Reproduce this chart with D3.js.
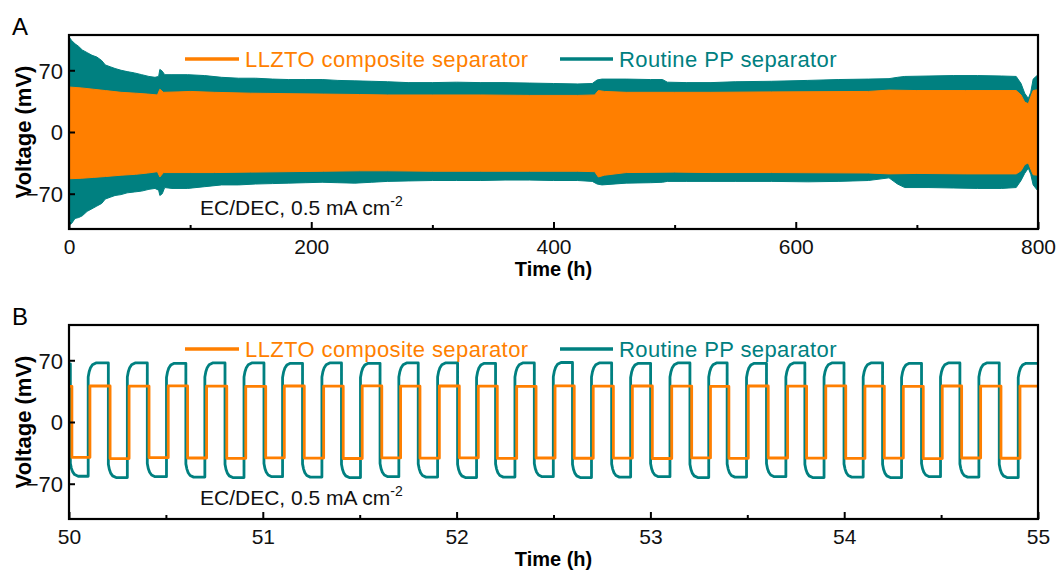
<!DOCTYPE html>
<html>
<head>
<meta charset="utf-8">
<script src="https://cdn.jsdelivr.net/npm/d3@7"></script>
<style>
  html, body { margin: 0; padding: 0; background: #fff; }
  svg { display: block; font-family: "Liberation Sans", Arial, sans-serif; }
</style>
</head>
<body>
<svg id="chart" width="1060" height="572"></svg>
<script>
// ---------- Panel A: long-term cycling envelope (0–800 h) ----------
// Routine PP separator: time (h), upper and lower voltage envelope (mV)
const ppTimeA  = [0, 2, 5, 8, 11, 15, 19, 23, 27, 30, 34, 38, 43, 48, 54, 60, 66, 71, 74, 75, 77, 79, 85, 98, 112, 126, 140, 154, 168, 181, 195, 209, 222, 236, 250, 263, 280, 300, 320, 340, 360, 380, 400, 420, 432, 436, 440, 460, 480, 490, 494, 510, 530, 550, 580, 610, 635, 660, 677, 684, 690, 710, 730, 750, 770, 782, 786, 789, 792, 794, 796, 800];
const ppUpperA = [108, 104, 100, 97, 93, 90, 87, 85, 81, 76, 74, 72, 70, 68.5, 67, 65, 63, 62, 63, 71, 69, 65, 65, 65, 64, 62, 61, 61, 60, 59.5, 59.5, 59.5, 58.5, 58, 57.5, 57, 56, 56, 56.5, 56, 56, 55.5, 55, 54.5, 55, 59, 60, 60, 59.5, 59.5, 56.5, 56, 56, 57, 57.5, 58.5, 59.5, 60, 60.5, 62, 63, 63.5, 64, 64, 63.5, 63, 55, 44, 38, 45, 60, 65];
const ppLowerA = [-105, -104, -98, -97, -95, -90, -87, -84, -81, -76, -74, -72, -71, -69, -68, -67, -65, -64, -66, -72, -70, -63, -64, -64, -62, -60, -60, -59, -58.5, -58, -57.5, -57, -57.5, -58, -57, -56, -55.5, -55, -55, -55, -54.5, -54.5, -55, -55, -56, -59, -60, -58, -57.5, -57, -56, -56, -56, -56, -56, -56.5, -56, -55, -52, -59, -63, -63, -63.5, -64, -64, -63, -55, -47, -41, -48, -60, -67];

// LLZTO composite separator: time (h), upper and lower voltage envelope (mV)
const llzTimeA  = [0, 10, 20, 30, 43, 55, 65, 73, 75, 78, 90, 100, 120, 150, 180, 210, 240, 263, 300, 340, 380, 420, 434, 437, 442, 460, 500, 530, 580, 660, 677, 700, 740, 782, 786, 789, 792, 794, 796, 800];
const llzUpperA = [51, 50, 48.5, 47, 45, 44, 43, 42, 48.5, 45, 45.5, 46, 45, 44, 43.5, 43, 42.5, 42, 42, 42, 41.5, 41.5, 42, 47, 46, 45, 45, 45, 45.5, 46, 47.5, 47, 47, 47, 42, 34, 32, 40, 47, 48];
const llzLowerA = [-53, -52.5, -51.5, -50.5, -49, -48, -46.5, -45, -51, -46, -46, -46, -46, -45.5, -45, -44.5, -44, -44, -44.5, -44.5, -44.5, -44.5, -45, -51, -49, -46, -45.5, -46, -46, -46.5, -47.5, -47, -47.5, -47.5, -44, -37, -35, -42, -48.5, -49];

const xTicksA = [0, 200, 400, 600, 800];
const xMinorA = [100, 300, 500, 700];

// ---------- Panel B: detail between 50 h and 55 h ----------
// Times (h) at which the polarity flips; the trace starts on the positive side
const llzSwitchB = [50.015, 50.108, 50.212, 50.310, 50.413, 50.512, 50.612, 50.710, 50.814, 50.912, 51.015, 51.111, 51.214, 51.314, 51.415, 51.513, 51.614, 51.711, 51.811, 51.911, 52.014, 52.112, 52.210, 52.310, 52.410, 52.508, 52.607, 52.705, 52.809, 52.907, 53.010, 53.110, 53.213, 53.310, 53.405, 53.505, 53.608, 53.708, 53.806, 53.905, 54.008, 54.107, 54.207, 54.305, 54.408, 54.506, 54.606, 54.704, 54.809, 54.907];
// Plateau voltage of each positive / negative half-cycle (mV)
const llzHighB = [40.5, 40.8, 40.6, 40.9, 40.7, 40.5, 40.8, 40.6, 40.9, 40.6, 40.8, 40.7, 40.5, 40.9, 40.6, 40.8, 40.7, 40.4, 40.8, 40.6, 40.9, 40.7, 40.5, 40.8, 40.6, 40.7];
const llzLowB  = [-40.2, -41.5, -40.5, -40.8, -41.2, -40.6, -40.9, -41.4, -40.7, -41.0, -40.6, -41.3, -40.8, -41.1, -40.9, -41.4, -40.7, -41.2, -40.8, -41.0, -41.3, -40.9, -41.5, -40.8, -41.1];

const ppSwitchB = [50.007, 50.099, 50.203, 50.301, 50.404, 50.503, 50.603, 50.701, 50.805, 50.903, 51.006, 51.102, 51.205, 51.305, 51.406, 51.504, 51.605, 51.702, 51.802, 51.902, 52.005, 52.103, 52.201, 52.301, 52.401, 52.499, 52.598, 52.696, 52.800, 52.898, 53.001, 53.101, 53.204, 53.301, 53.396, 53.496, 53.599, 53.699, 53.797, 53.896, 53.999, 54.098, 54.198, 54.296, 54.399, 54.497, 54.597, 54.695, 54.800, 54.898];
const ppHighB = [66, 67, 67, 66.5, 67, 67, 66.5, 67, 66.5, 67, 67, 66.5, 67, 67.5, 67, 66.5, 67, 67, 66.5, 67, 67, 67, 66.5, 67, 67, 66.5];
const ppLowB  = [-61.5, -63, -62, -62.5, -63, -62, -62.5, -63, -62, -62.5, -63, -62.5, -62, -63, -62.5, -62, -63, -62.5, -62, -63, -62.5, -63, -62, -62.5, -63];
// Relaxation of the PP cell after each reversal: (hours after flip, share of plateau)
const ppRelaxB = [[0, 0.76], [0.005, 0.85], [0.012, 0.92], [0.022, 0.97], [0.04, 1.0]];

const xTicksB = [50, 51, 52, 53, 54, 55];
const xMinorB = [50.5, 51.5, 52.5, 53.5, 54.5];

const yTicks = [-70, 0, 70];

const seriesNames = ["LLZTO composite separator", "Routine PP separator"];
const colorLLZ = "#FF7F00";
const colorPP = "#008080";

// ---------- layout ----------
const svg = d3.select("#chart");
const left = 69, right = 1038;
const panels = [
  { key: "A", top: 35, bottom: 229, domain: [0, 800], ticks: xTicksA, minor: xMinorA },
  { key: "B", top: 325, bottom: 519, domain: [50, 55], ticks: xTicksB, minor: xMinorB }
];
const FONT = "\"Liberation Sans\", Arial, sans-serif";

const defs = svg.append("defs");

panels.forEach(p => {
  p.x = d3.scaleLinear().domain(p.domain).range([left, right]);
  p.y = d3.scaleLinear().domain([-110, 110]).range([p.bottom, p.top]);
  defs.append("clipPath").attr("id", "clip" + p.key)
    .append("rect").attr("x", left).attr("y", p.top)
    .attr("width", right - left).attr("height", p.bottom - p.top);
  p.g = svg.append("g");
  p.plot = p.g.append("g").attr("clip-path", `url(#clip${p.key})`);
});

// ---------- Panel A marks ----------
(function () {
  const p = panels[0];
  const band = d3.area()
    .x(d => p.x(d.t)).y0(d => p.y(d.lo)).y1(d => p.y(d.hi));
  const ppData = ppTimeA.map((t, i) => ({ t, hi: ppUpperA[i], lo: ppLowerA[i] }));
  const llzData = llzTimeA.map((t, i) => ({ t, hi: llzUpperA[i], lo: llzLowerA[i] }));
  p.plot.append("path").datum(ppData).attr("d", band)
    .attr("fill", colorPP).attr("stroke", colorPP).attr("stroke-width", 1);
  p.plot.append("path").datum(llzData).attr("d", band)
    .attr("fill", colorLLZ).attr("stroke", colorLLZ).attr("stroke-width", 1);
})();

// ---------- Panel B marks ----------
(function () {
  const p = panels[1];
  const [t0, t1] = p.domain;
  const line = d3.line().x(d => p.x(d[0])).y(d => p.y(d[1]));

  // LLZTO: square wave with flat plateaus
  const llzPts = [];
  let hi = 0, lo = 0;
  for (let i = 0; i <= llzSwitchB.length; i++) {
    const start = i === 0 ? t0 : llzSwitchB[i - 1];
    const end = i === llzSwitchB.length ? t1 : llzSwitchB[i];
    const v = i % 2 === 0 ? llzHighB[hi++] : llzLowB[lo++];
    llzPts.push([start, v], [end, v]);
  }

  // PP: square wave with a rounded knee after each reversal
  const ppPts = [];
  hi = 0; lo = 0;
  for (let i = 0; i <= ppSwitchB.length; i++) {
    const start = i === 0 ? t0 : ppSwitchB[i - 1];
    const end = i === ppSwitchB.length ? t1 : ppSwitchB[i];
    const v = i % 2 === 0 ? ppHighB[hi++] : ppLowB[lo++];
    if (i === 0) {
      ppPts.push([start, v]);
    } else {
      ppRelaxB.forEach(([dt, f]) => {
        if (start + dt < end) ppPts.push([start + dt, v * f]);
      });
    }
    ppPts.push([end, v]);
  }

  p.plot.append("path").datum(ppPts).attr("d", line)
    .attr("fill", "none").attr("stroke", colorPP).attr("stroke-width", 2.8)
    .attr("stroke-linejoin", "round");
  p.plot.append("path").datum(llzPts).attr("d", line)
    .attr("fill", "none").attr("stroke", colorLLZ).attr("stroke-width", 2.8)
    .attr("stroke-linejoin", "round");
})();

// ---------- axes, frame, text (both panels) ----------
panels.forEach(p => {
  const g = p.g;
  // major x ticks with labels
  const xAxis = d3.axisBottom(p.x).tickValues(p.ticks)
    .tickSizeInner(-7).tickSizeOuter(0).tickPadding(10).tickFormat(d3.format("d"));
  const ax = g.append("g").attr("transform", `translate(0,${p.bottom})`).call(xAxis);
  // minor x ticks
  const xMinor = d3.axisBottom(p.x).tickValues(p.minor)
    .tickSizeInner(-4).tickSizeOuter(0).tickFormat("");
  const axm = g.append("g").attr("transform", `translate(0,${p.bottom})`).call(xMinor);
  // y ticks
  const yAxis = d3.axisLeft(p.y).tickValues(yTicks)
    .tickSizeInner(-6).tickSizeOuter(0).tickPadding(6).tickFormat(d3.format("d"));
  const ay = g.append("g").attr("transform", `translate(${left},0)`).call(yAxis);

  [ax, axm, ay].forEach(a => {
    a.select(".domain").remove();
    a.selectAll("line").attr("stroke", "#000").attr("stroke-width", 2);
    a.selectAll("text").attr("font-family", FONT).attr("font-size", 21).attr("fill", "#111");
  });
  ay.selectAll("text").attr("dy", "0.36em").attr("font-size", 22);

  // frame
  g.append("rect").attr("x", left).attr("y", p.top)
    .attr("width", right - left).attr("height", p.bottom - p.top)
    .attr("fill", "none").attr("stroke", "#000").attr("stroke-width", 2.2);

  // axis titles
  g.append("text").attr("x", (left + right) / 2).attr("y", p.bottom + 47)
    .attr("text-anchor", "middle").attr("font-family", FONT)
    .attr("font-size", 20).attr("font-weight", "bold").attr("fill", "#000")
    .text("Time (h)");
  g.append("text")
    .attr("transform", `translate(31,${(p.top + p.bottom) / 2}) rotate(-90)`)
    .attr("text-anchor", "middle").attr("font-family", FONT)
    .attr("font-size", 22).attr("font-weight", "bold").attr("fill", "#000")
    .text("Voltage (mV)");

  // panel letter
  g.append("text").attr("x", 12).attr("y", p.top)
    .attr("font-family", FONT).attr("font-size", 24).attr("fill", "#000")
    .text(p.key);

  // legend
  const ly = p.top + 24;
  [[185, 239, 245, colorLLZ, seriesNames[0]], [560, 613, 619, colorPP, seriesNames[1]]]
    .forEach(([x1, x2, tx, c, name]) => {
      g.append("line").attr("x1", x1).attr("x2", x2).attr("y1", ly).attr("y2", ly)
        .attr("stroke", c).attr("stroke-width", 3.5);
      g.append("text").attr("x", tx).attr("y", ly + 7.5)
        .attr("font-family", FONT).attr("font-size", 22).attr("letter-spacing", 0.4)
        .attr("fill", c).text(name);
    });

  // electrolyte and current density note
  const note = g.append("text").attr("x", 200).attr("y", p.bottom - 14)
    .attr("font-family", FONT).attr("font-size", 21).attr("fill", "#111");
  note.append("tspan").text("EC/DEC, 0.5 mA cm");
  note.append("tspan").attr("dy", -9).attr("font-size", 14).text("-2");
});
</script>
</body>
</html>
